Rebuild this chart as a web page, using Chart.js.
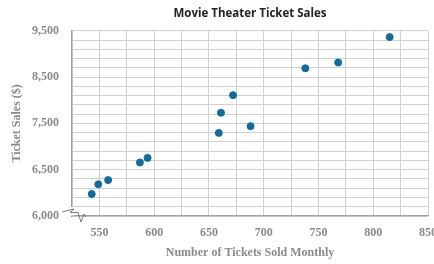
<!DOCTYPE html>
<html>
<head>
<meta charset="utf-8">
<script src="https://cdn.jsdelivr.net/npm/chart.js@4.4.1/dist/chart.umd.min.js"></script>
<style>
  html, body { margin: 0; padding: 0; background: #fff; }
  #wrap { width: 434px; height: 264px; }
</style>
</head>
<body>
<div id="wrap"><canvas id="sales"></canvas></div>
<script>
var ticketsSold = [543, 549, 558, 587, 594, 659, 661, 672, 688, 738, 768, 815];
var ticketSales = [5975, 6185, 6275, 6655, 6755, 7295, 7730, 8110, 7440, 8690, 8815, 9365];

var xMin = 525, xMax = 850, xStep = 25;
var yMin = 5500, yMax = 9500, yStep = 200;
var yLabels = [9500, 8500, 7500, 6500];
var yBreakLabel = '6,000';

var points = ticketsSold.map(function(x, i) {
  return { x: x, y: ticketSales[i] };
});

var tickFont = { family: '"Liberation Serif", serif', size: 12, weight: 'bold' };
var grey = '#8a8a8a';

// zigzag axis break at bottom-left
var axisBreak = {
  id: 'axisBreak',
  afterDraw: function(chart) {
    var ctx = chart.ctx;
    var area = chart.chartArea;
    var x0 = area.left, y0 = area.bottom;
    ctx.save();
    ctx.fillStyle = '#fff';
    ctx.fillRect(x0 - 2, y0 - 9, 4, 8.5);
    ctx.strokeStyle = '#777';
    ctx.lineWidth = 1;
    ctx.beginPath();
    ctx.moveTo(x0 - 10, y0 - 4);
    ctx.lineTo(x0 + 2, y0 - 7);
    ctx.lineTo(x0 - 2, y0 - 3.5);
    ctx.lineTo(x0 + 6, y0 - 3.5);
    ctx.lineTo(x0 + 9, y0 + 6);
    ctx.lineTo(x0 + 12, y0 - 2);
    ctx.lineTo(x0 + 14, y0 + 1);
    ctx.stroke();
    ctx.restore();
  }
};

var chart = new Chart(document.getElementById('sales'), {
  type: 'scatter',
  data: {
    datasets: [{
      data: points,
      backgroundColor: '#0e6c9e',
      borderColor: '#0e6c9e',
      pointRadius: 3.5,
      pointHoverRadius: 3.5
    }]
  },
  options: {
    responsive: true,
    maintainAspectRatio: false,
    animation: false,
    events: [],
    layout: { padding: { left: 0, right: 6, top: 0, bottom: 0 } },
    plugins: {
      legend: { display: false },
      tooltip: { enabled: false },
      title: {
        display: true,
        fullSize: false,
        text: 'Movie Theater Ticket Sales',
        color: '#222',
        font: { family: '"Open Sans", sans-serif', size: 11.5, weight: 'bold' },
        padding: { top: 6.5, bottom: 10.5 }
      }
    },
    scales: {
      x: {
        type: 'linear',
        min: xMin,
        max: xMax,
        grid: { color: '#d0d0d0', drawTicks: false },
        border: { color: '#a0a0a0', width: 1.3 },
        ticks: {
          stepSize: xStep,
          padding: 10,
          color: grey,
          font: tickFont,
          maxRotation: 0,
          autoSkip: false,
          callback: function(v) { return v % 50 === 0 ? String(v) : ''; }
        },
        title: {
          display: true,
          text: 'Number of Tickets Sold Monthly',
          color: grey,
          font: tickFont,
          padding: { top: 0, bottom: 4 }
        },
        afterFit: function(scale) {
          scale.height = 48;
          scale.paddingLeft = 0;
          scale.paddingRight = 0;
        }
      },
      y: {
        min: yMin,
        max: yMax,
        grid: { color: '#d0d0d0', drawTicks: false },
        border: { color: '#a0a0a0', width: 1.3 },
        ticks: {
          stepSize: yStep,
          padding: 13,
          color: grey,
          font: tickFont,
          autoSkip: false,
          callback: function(v) {
            if (v === yMin) return yBreakLabel;
            return yLabels.indexOf(v) >= 0 ? v.toLocaleString('en-US') : '';
          }
        },
        title: {
          display: true,
          text: 'Ticket Sales ($)',
          color: grey,
          font: tickFont,
          padding: { top: 10, bottom: 0 }
        },
        afterFit: function(scale) {
          scale.width = 72;
          scale.paddingTop = 0;
          scale.paddingBottom = 0;
        }
      }
    }
  },
  plugins: [axisBreak]
});
</script>
</body>
</html>
